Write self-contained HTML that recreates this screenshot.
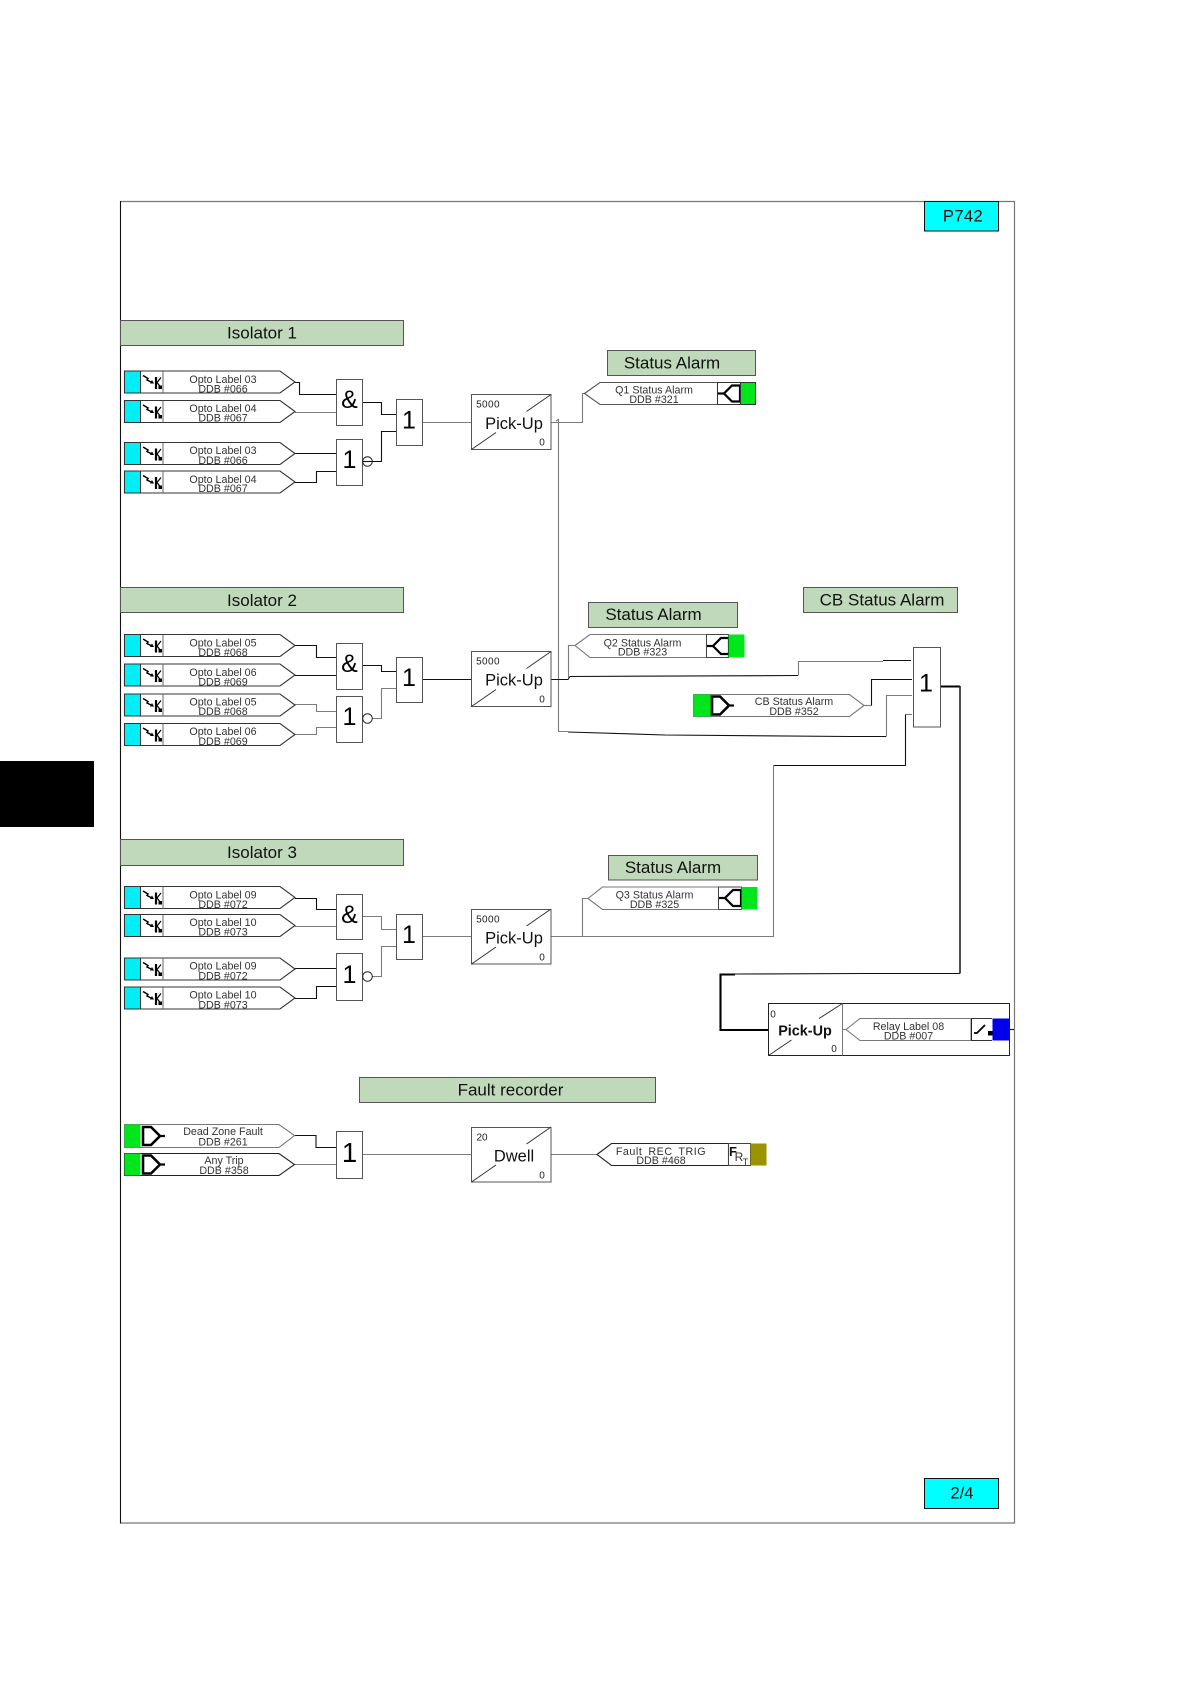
<!DOCTYPE html>
<html lang="en">
<head>
<meta charset="utf-8">
<title>P742 Isolator and Status Alarm Logic</title>
<style>
html,body{margin:0;padding:0;background:#fff;width:1191px;height:1684px;overflow:hidden}
svg{display:block}
text{font-family:"Liberation Sans",Arial,sans-serif;text-anchor:middle;fill:#111}
.h{font-size:17px}
.s{font-size:10.7px;fill:#333}
.t{font-size:16.5px;fill:#111}
.n{font-size:10px;fill:#222}
.g{font-size:25px;fill:#000}
.k,.w,.o{fill:none}
.k{stroke:#111;stroke-width:1.1}
.w{stroke:#7c7c7c;stroke-width:1.1}
.o{stroke:#000;stroke-width:2.1}
.hb{fill:#c0d9bb;stroke:#555;stroke-width:1}
.bx{fill:#fff;stroke:#555;stroke-width:1}
</style>
</head>
<body>
<svg width="1191" height="1684" viewBox="0 0 1191 1684" xmlns="http://www.w3.org/2000/svg">
<defs>
<g id="opto">
<polygon points="124.5,0.5 280,0.5 295,11.5 280,22.5 124.5,22.5" fill="#fff" stroke="#333" stroke-width="1.1"/>
<rect x="124.5" y="0.5" width="16" height="22" fill="#00eef5" stroke="#333" stroke-width="1"/>
<line x1="163" y1="0.5" x2="163" y2="22.5" stroke="#666"/>
<path d="M143,5 L148,8 L147,9.5 L153,12.5" fill="none" stroke="#000" stroke-width="1.5"/>
<path d="M150,13 L154,13 L152,9.5Z" fill="#000"/>
<path d="M156,6.5 V18.5" stroke="#000" stroke-width="2.2" fill="none"/>
<path d="M157,12 L161,7 M157,12 L161,17" stroke="#000" stroke-width="1.2" fill="none"/>
<rect x="158.5" y="15" width="3.5" height="3.5" fill="#000"/>
</g>
<g id="dshape">
<path d="M1,-9 H9 L18,0 L9,9 H1 Z" fill="none" stroke="#000" stroke-width="2.6"/>
<path d="M18,0 H23" stroke="#000" stroke-width="2.2"/>
</g>
<g id="rshape">
<path d="M22,-8 H14 L6,0 L14,8 H22 Z" fill="none" stroke="#000" stroke-width="2.2"/>
<path d="M0,0 H7" stroke="#000" stroke-width="2.2"/>
</g>
<g id="split">
<line x1="0" y1="55" x2="24.5" y2="38" stroke="#333"/>
<line x1="55" y1="17" x2="79.5" y2="0" stroke="#333"/>
</g>
</defs>

<rect x="0" y="761" width="94" height="66" fill="#000"/>

<!-- frame -->
<path d="M120.5,201.5 H1014.5 V1523 H120.5" fill="none" stroke="#777" stroke-width="1.2"/>
<path d="M120.5,201 V1523.5" fill="none" stroke="#111" stroke-width="1.1"/>

<rect x="924.5" y="201.5" width="74" height="29.5" fill="#00ffff" stroke="#111"/>
<text class="t" x="963" y="221.5" style="letter-spacing:.4px">P742</text>
<rect x="924.5" y="1478.5" width="74" height="30" fill="#00ffff" stroke="#111"/>
<text class="t" x="962" y="1498.5">2/4</text>

<!-- headers -->
<rect class="hb" x="120.5" y="320.5" width="283" height="25"/><text class="h" x="262" y="338.5">Isolator 1</text>
<rect class="hb" x="120.5" y="587.5" width="283" height="25"/><text class="h" x="262" y="606">Isolator 2</text>
<rect class="hb" x="120.5" y="839.5" width="283" height="26"/><text class="h" x="262" y="858">Isolator 3</text>
<rect class="hb" x="359.5" y="1077.5" width="296" height="25"/><text class="h" x="510.5" y="1095.5">Fault recorder</text>
<rect class="hb" x="607.5" y="350.5" width="148" height="25"/><text class="h" x="672" y="368.5">Status Alarm</text>
<rect class="hb" x="588.5" y="602.5" width="149" height="25"/><text class="h" x="653.5" y="620">Status Alarm</text>
<rect class="hb" x="608.5" y="855.5" width="149" height="24.5"/><text class="h" x="673" y="873">Status Alarm</text>
<rect class="hb" x="803.5" y="587.5" width="154" height="25"/><text class="h" x="882" y="605.5">CB Status Alarm</text>

<!-- wires: isolator 1 -->
<path class="k" d="M295,382.5 H299.5 V394.5 H336.5"/>
<path class="w" d="M295,412.5 H336.5"/>
<path class="k" d="M295,453.5 H336.5"/>
<path class="k" d="M295,482.5 H316.5 V471.5 H336.5"/>
<path class="k" d="M362.5,402.5 H381.5 V414.5 H396"/>
<path class="k" d="M372,461.5 H381.5 V431.5 H396"/>
<path class="w" d="M422.5,422.5 H471.5"/>
<path class="w" d="M551,422.5 H582.5 V393.5 H585"/>
<path class="w" d="M556,421 L558.5,419.5 V731.5 H568"/>

<!-- wires: isolator 2 -->
<path class="k" d="M295,645.5 H316.5 V657.5 H336.5"/>
<path class="k" d="M295,675.5 H336.5"/>
<path class="w" d="M295,704.5 H316.5 V711.5 H336.5"/>
<path class="w" d="M295,734.5 H316.5 V727.5 H336.5"/>
<path class="k" d="M362.5,665.5 H381.5 V671.5 H396"/>
<path class="w" d="M372,718.5 H381.5 V688.5 H396"/>
<path class="k" d="M422.5,679.5 H471.5"/>

<!-- wires: isolator 3 -->
<path class="k" d="M295,898.5 H316.5 V909.5 H336.5"/>
<path class="w" d="M295,926.5 H336.5"/>
<path class="k" d="M295,968.5 H336.5"/>
<path class="k" d="M295,998.5 H316.5 V986.5 H336.5"/>
<path class="w" d="M362.5,916.5 H381.5 V929.5 H396"/>
<path class="w" d="M372,976.5 H381.5 V946.5 H396"/>
<path class="w" d="M422.5,936.5 H471.5"/>

<!-- wires: fault recorder -->
<path class="k" d="M295,1135.5 H316 V1147.5 H336.5"/>
<path class="w" d="M295,1164.5 H336.5"/>
<path class="w" d="M362.5,1154.5 H471.5"/>
<path class="w" d="M551,1154.5 H597"/>

<!-- wires: right side -->
<path class="k" d="M568,732 L665,735 L850,736.5 H886"/>
<path class="w" d="M886.5,736.5 V695.5 H912"/>
<path class="k" d="M551,679.5 H568 L570,676.5 L798,675.5"/>
<path class="w" d="M568.5,678 V645.5 H575"/>
<path class="w" d="M798.5,675.5 V661.5 H883"/>
<path class="k" d="M883,660.5 H911"/>
<path class="w" d="M864,705.5 H871.5"/>
<path class="k" d="M871.5,705.5 V679.5 H912"/>
<path class="w" d="M912,714.5 H905.5"/>
<path class="k" d="M905.5,714.5 V765.5 H773.5"/>
<path class="w" d="M773.5,765.5 V936.5 H551"/>
<path class="w" d="M582.5,936 V898.5 H588"/>
<path class="o" d="M940,686.5 H960"/>
<path d="M960,686 V973.5" fill="none" stroke="#222" stroke-width="1.6"/>
<path class="k" d="M960,973.5 H865 L735,974"/>
<path class="o" d="M735,974.5 H720.5 V1030 H768.5"/>
<path class="k" d="M1009,1029.5 H1014"/>

<!-- opto inputs -->
<use href="#opto" y="370.5"/>
<text class="s" x="223" y="383">Opto Label 03</text><text class="s" x="223" y="392.5">DDB #066</text>
<use href="#opto" y="400"/>
<text class="s" x="223" y="412">Opto Label 04</text><text class="s" x="223" y="421.5">DDB #067</text>
<use href="#opto" y="442"/>
<text class="s" x="223" y="454">Opto Label 03</text><text class="s" x="223" y="464">DDB #066</text>
<use href="#opto" y="470.5"/>
<text class="s" x="223" y="483">Opto Label 04</text><text class="s" x="223" y="492">DDB #067</text>

<use href="#opto" y="634"/>
<text class="s" x="223" y="646.5">Opto Label 05</text><text class="s" x="223" y="656">DDB #068</text>
<use href="#opto" y="663.5"/>
<text class="s" x="223" y="676">Opto Label 06</text><text class="s" x="223" y="685.5">DDB #069</text>
<use href="#opto" y="693.5"/>
<text class="s" x="223" y="705.5">Opto Label 05</text><text class="s" x="223" y="715">DDB #068</text>
<use href="#opto" y="723"/>
<text class="s" x="223" y="735">Opto Label 06</text><text class="s" x="223" y="745">DDB #069</text>

<use href="#opto" y="886"/>
<text class="s" x="223" y="898.5">Opto Label 09</text><text class="s" x="223" y="908">DDB #072</text>
<use href="#opto" y="914"/>
<text class="s" x="223" y="926">Opto Label 10</text><text class="s" x="223" y="935.5">DDB #073</text>
<use href="#opto" y="957.5"/>
<text class="s" x="223" y="969.5">Opto Label 09</text><text class="s" x="223" y="979.5">DDB #072</text>
<use href="#opto" y="986.5"/>
<text class="s" x="223" y="998.5">Opto Label 10</text><text class="s" x="223" y="1008.5">DDB #073</text>

<!-- gates: isolator 1 -->
<rect class="bx" x="336.5" y="379.5" width="26" height="46"/><text class="g" x="349.5" y="408">&amp;</text>
<rect class="bx" x="336.5" y="439.5" width="26" height="46"/><text class="g" x="349.5" y="468">1</text>
<circle cx="367.5" cy="461.5" r="4.8" fill="#fff" stroke="#222"/><path class="k" d="M363,461.5 H372"/>
<rect class="bx" x="396.5" y="399.5" width="26" height="46"/><text class="g" x="409" y="428.5">1</text>
<!-- gates: isolator 2 -->
<rect class="bx" x="336.5" y="643.5" width="26" height="46"/><text class="g" x="349.5" y="672">&amp;</text>
<rect class="bx" x="336.5" y="696.5" width="26" height="46"/><text class="g" x="349.5" y="725">1</text>
<circle cx="367.5" cy="718.5" r="4.8" fill="#fff" stroke="#222"/>
<rect class="bx" x="396.5" y="657.5" width="26" height="45"/><text class="g" x="409" y="686">1</text>
<!-- gates: isolator 3 -->
<rect class="bx" x="336.5" y="894.5" width="26" height="45"/><text class="g" x="349.5" y="923">&amp;</text>
<rect class="bx" x="336.5" y="953.5" width="26" height="47"/><text class="g" x="349.5" y="983">1</text>
<circle cx="367.5" cy="976.5" r="4.8" fill="#fff" stroke="#222"/>
<rect class="bx" x="396.5" y="914.5" width="26" height="45"/><text class="g" x="409" y="943">1</text>
<!-- large OR gate -->
<rect class="bx" x="913.5" y="647.5" width="27" height="79.5"/><text class="g" x="926" y="691.5">1</text>

<!-- timers -->
<rect class="bx" x="471.5" y="394.5" width="79.5" height="55"/>
<use href="#split" x="471.5" y="394.5"/>
<text class="n" x="488" y="407.5" style="letter-spacing:.4px">5000</text><text class="t" x="514" y="429">Pick-Up</text><text class="n" x="542" y="445.5">0</text>

<rect class="bx" x="471.5" y="651.5" width="79.5" height="55"/>
<use href="#split" x="471.5" y="651.5"/>
<text class="n" x="488" y="664.5" style="letter-spacing:.4px">5000</text><text class="t" x="514" y="685.5">Pick-Up</text><text class="n" x="542" y="702.5">0</text>

<rect class="bx" x="471.5" y="909.5" width="79.5" height="54.5"/>
<use href="#split" x="471.5" y="909"/>
<text class="n" x="488" y="922.5" style="letter-spacing:.4px">5000</text><text class="t" x="514" y="943.5">Pick-Up</text><text class="n" x="542" y="960.5">0</text>

<rect class="bx" x="471.5" y="1127.5" width="79.5" height="54.5"/>
<use href="#split" x="471.5" y="1127"/>
<text class="n" x="482" y="1140.5">20</text><text class="t" x="514" y="1161.5">Dwell</text><text class="n" x="542" y="1178.5">0</text>

<!-- relay block -->
<rect x="768.5" y="1003.5" width="241" height="52" fill="#fff" stroke="#222"/>
<line x1="842.5" y1="1003.5" x2="842.5" y2="1055.5" stroke="#777"/>
<line x1="768.5" y1="1055.5" x2="791.5" y2="1040" stroke="#333"/>
<line x1="819" y1="1018.5" x2="842.5" y2="1003.5" stroke="#333"/>
<text class="n" x="773" y="1017.5">0</text>
<text class="t" x="805" y="1035.5" style="font-size:14.4px;font-weight:bold">Pick-Up</text>
<text class="n" x="834" y="1052">0</text>
<path class="w" d="M842.5,1029.5 H846"/>
<polygon points="846,1029.5 860,1018.5 971,1018.5 971,1040.5 860,1040.5" fill="#fff" stroke="#777" stroke-width="1.1"/>
<text class="s" x="908.5" y="1030">Relay Label 08</text><text class="s" x="908.5" y="1039.5">DDB #007</text>
<line x1="971.5" y1="1018.5" x2="971.5" y2="1040.5" stroke="#222"/>
<line x1="992" y1="1018.5" x2="971" y2="1018.5" stroke="#333"/>
<line x1="992" y1="1040.5" x2="971" y2="1040.5" stroke="#333"/>
<path d="M974,1033 H977 L985,1025" fill="none" stroke="#000" stroke-width="1.8"/>
<rect x="988" y="1031" width="4.5" height="4.5" fill="#000"/>
<rect x="992.5" y="1018.5" width="16.8" height="22" fill="#0000ee"/>

<!-- output alarms -->
<polygon points="584.5,393.5 600,382.5 717.5,382.5 717.5,404.5 600,404.5" fill="#fff" stroke="#555" stroke-width="1.1"/>
<rect x="717.5" y="382.5" width="23" height="22" fill="#fff" stroke="#333"/>
<use href="#rshape" x="718" y="393.5"/>
<rect x="740.5" y="382.5" width="15" height="22" fill="#00e61c" stroke="#333"/>
<text class="s" x="654" y="393.5">Q1 Status Alarm</text><text class="s" x="654" y="403">DDB #321</text>

<polygon points="575,645.5 590,634.5 706.5,634.5 706.5,657.5 590,657.5" fill="#fff" stroke="#777" stroke-width="1.1"/>
<rect x="706.5" y="634.5" width="22" height="23" fill="#fff" stroke="#444"/>
<use href="#rshape" x="707" y="646"/>
<rect x="728.5" y="634.5" width="16" height="23" fill="#00e61c"/>
<text class="s" x="642.5" y="646.5">Q2 Status Alarm</text><text class="s" x="642.5" y="655.5">DDB #323</text>

<polygon points="588,898.5 602.5,887 718.5,887 718.5,909.5 602.5,909.5" fill="#fff" stroke="#777" stroke-width="1.1"/>
<rect x="718.5" y="887" width="23" height="22.5" fill="#fff" stroke="#444"/>
<use href="#rshape" x="719" y="898"/>
<rect x="741.5" y="887" width="16" height="22.5" fill="#00e61c"/>
<text class="s" x="654.5" y="898.5">Q3 Status Alarm</text><text class="s" x="654.5" y="908">DDB #325</text>

<polygon points="597,1154.5 611.5,1143.5 728.5,1143.5 728.5,1165.5 611.5,1165.5" fill="#fff" stroke="#222" stroke-width="1.1"/>
<rect x="728.5" y="1143.5" width="22" height="22" fill="#fff" stroke="#444"/>
<rect x="750.5" y="1143.5" width="16" height="22" fill="#9a9400"/>
<text class="s" x="661" y="1155" style="letter-spacing:.55px;word-spacing:2.5px">Fault REC TRIG</text><text class="s" x="661" y="1164">DDB #468</text>
<text x="733" y="1156" style="font-size:13px;font-weight:bold">F</text>
<text x="739" y="1161" style="font-size:12px;fill:#333">R</text>
<text x="745.5" y="1165" style="font-size:9px;fill:#333">T</text>

<!-- green input pills -->
<polygon points="693.5,694.5 849.5,694.5 864,705.5 849.5,716.5 693.5,716.5" fill="#fff" stroke="#777" stroke-width="1.1"/>
<rect x="693.5" y="694.5" width="17.5" height="22" fill="#00e61c"/>
<use href="#dshape" x="711" y="705.5"/>
<text class="s" x="794" y="705">CB Status Alarm</text><text class="s" x="794" y="715">DDB #352</text>

<polygon points="124.5,1124.5 279,1124.5 294.5,1135.5 279,1147.5 124.5,1147.5" fill="#fff" stroke="#777" stroke-width="1.1"/>
<rect x="124.5" y="1124.5" width="16" height="23" fill="#00e61c"/>
<use href="#dshape" x="142" y="1136"/>
<text class="s" x="223" y="1135">Dead Zone Fault</text><text class="s" x="223" y="1145.5">DDB #261</text>

<polygon points="124.5,1153.5 279,1153.5 294.5,1164.5 279,1175.5 124.5,1175.5" fill="#fff" stroke="#222" stroke-width="1.1"/>
<rect x="124.5" y="1153.5" width="16" height="22" fill="#00e61c"/>
<use href="#dshape" x="142" y="1164.5"/>
<text class="s" x="224" y="1164">Any Trip</text><text class="s" x="224" y="1174">DDB #358</text>

<!-- gate: fault recorder -->
<rect class="bx" x="336.5" y="1131.5" width="26" height="47"/><text class="g" x="349.5" y="1162" style="font-size:27.5px">1</text>
</svg>
</body>
</html>
